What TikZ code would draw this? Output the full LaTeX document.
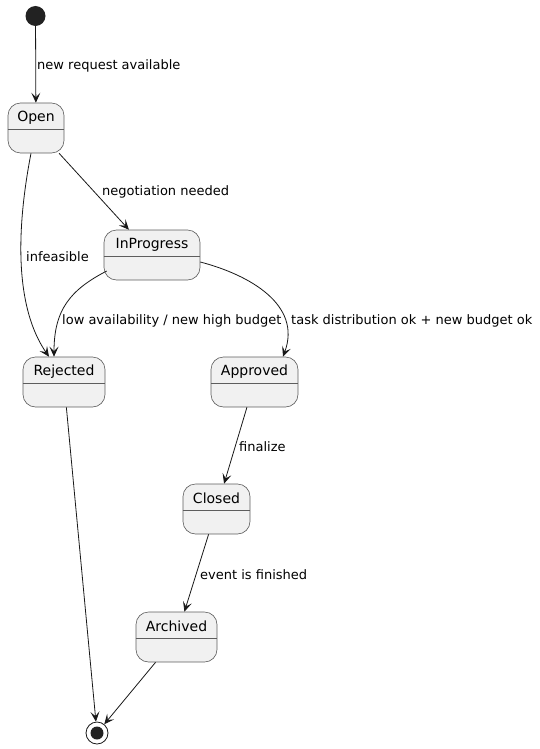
\documentclass[tikz,border=0pt]{standalone}
\usepackage{fontspec}
\setmainfont{DejaVu Sans}
\usetikzlibrary{arrows.meta,calc}
\definecolor{boxfill}{HTML}{F1F1F1}
\definecolor{ink}{HTML}{181818}
\definecolor{dot}{HTML}{222222}
\tikzset{
  statebox/.style={draw=ink!70, line width=0.6pt, fill=boxfill, rounded corners=12.5pt, inner sep=0pt},
  stitle/.style={font=\fontsize{14}{16}\selectfont, text=black, inner sep=0pt},
  elabel/.style={font=\fontsize{13}{15}\selectfont, text=black, anchor=west, inner sep=0pt},
  arr/.style={draw=ink, line width=0.8pt, -{Stealth[length=10pt,width=9pt,inset=4.5pt]}},
}
\newcommand{\mystate}[6]{%
  \node[statebox, minimum width=#4pt, minimum height=50pt] (#1) at (#2,#3) {};
  \node[stitle] at ($(#1.north)+(0,15)$) {#5};
  \draw[ink!70, line width=0.6pt] ($(#1.north west)+(0,27)$) -- ($(#1.north east)+(0,27)$);
}
\begin{document}
\begin{tikzpicture}[x=1pt,y=-1pt]
\useasboundingbox (0,0) rectangle (540,749);
% start
\node[circle, fill=dot, minimum size=20pt, inner sep=0pt] (start) at (35.5,16) {};
% states
\mystate{open}{36}{128}{56}{Open}{}
\mystate{inprog}{152}{255}{96}{InProgress}{}
\mystate{rejected}{64}{382}{82}{Rejected}{}
\mystate{approved}{254.5}{382}{87}{Approved}{}
\mystate{closed}{216.5}{509}{67}{Closed}{}
\mystate{archived}{176.5}{637}{81}{Archived}{}
% end
\node[circle, draw=ink, line width=0.8pt, fill=white, minimum size=22pt, inner sep=0pt] (end) at (97,733) {};
\fill[dot] (end.center) circle (6.5);
% edges
\draw[arr] (start) -- (open);
\draw[arr] (open) -- (inprog);
\draw[arr] ([xshift=-5pt]open.south) .. controls (20,210) and (10,300) .. ([xshift=-15pt]rejected.north);
\draw[arr] ([shift={(3pt,-16pt)}]inprog.west) .. controls (70,290) and (54,310) .. ([xshift=-10pt]rejected.north);
\draw[arr] ([yshift=-7pt]inprog.east) .. controls (250,275) and (302,305) .. ([xshift=28.5pt]approved.north);
\draw[arr] (approved) -- (closed);
\draw[arr] (closed) -- (archived);
\draw[arr] (rejected) -- (end);
\draw[arr] (archived) -- (end);
% labels
\node[elabel] (l1) at (37,65.5) {new request available};
\node[elabel] (l2) at (102,191.5) {negotiation needed};
\node[elabel] (l3) at (26,256.5) {infeasible};
\node[elabel] (l4) at (62,320.5) {low availability / new high budget};
\node[elabel] (l5) at (291,320.5) {task distribution ok + new budget ok};
\node[elabel] (l6) at (239,446.5) {finalize};
\node[elabel] (l7) at (200,574.5) {event is finished};
\end{tikzpicture}
\end{document}
